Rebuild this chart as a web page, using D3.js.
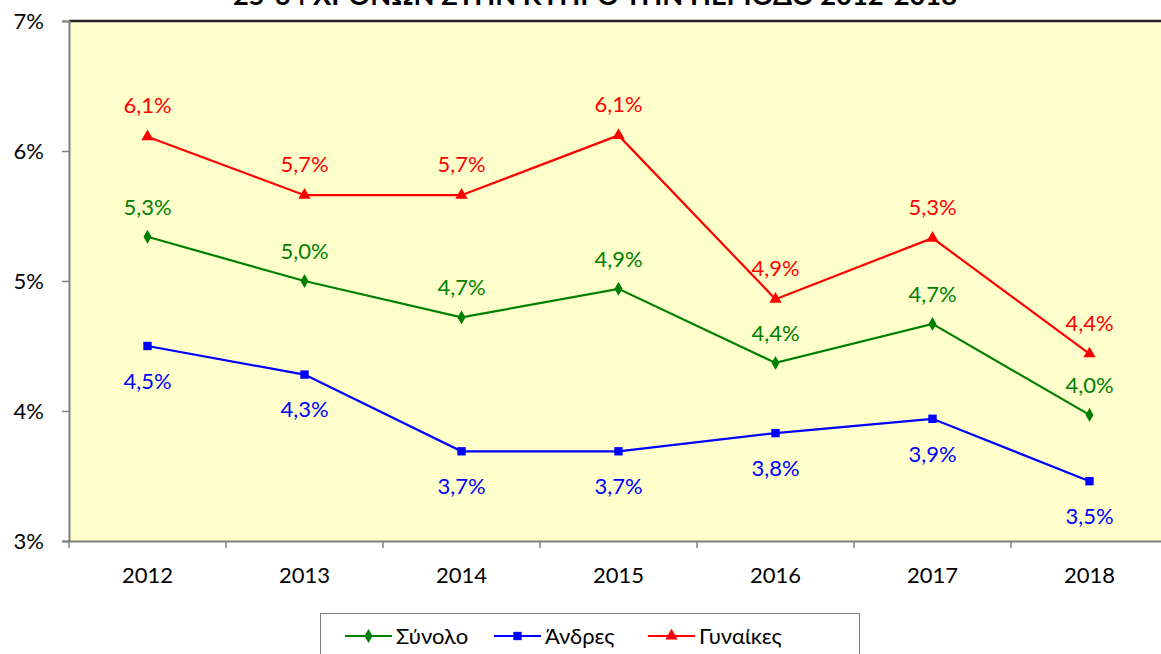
<!DOCTYPE html>
<html><head><meta charset="utf-8">
<script src="https://cdn.jsdelivr.net/npm/d3@7"></script>
<style>body{margin:0;background:#fff}svg{display:block}text{font-family:Lato,"Open Sans",sans-serif}</style>
</head><body>
<svg id="c" width="1161" height="654"></svg>
<script>
const years = ["2012","2013","2014","2015","2016","2017","2018"];
const total = [5.34, 5.00, 4.72, 4.94, 4.37, 4.67, 3.97];
const men   = [4.50, 4.28, 3.69, 3.69, 3.83, 3.94, 3.46];
const women = [6.11, 5.66, 5.66, 6.12, 4.86, 5.33, 4.44];
const yTicks = [3,4,5,6,7];
const title = "25-64 ΧΡΟΝΩΝ ΣΤΗΝ ΚΥΠΡΟ ΤΗΝ ΠΕΡΙΟΔΟ 2012-2018";
const seriesNames = ["Σύνολο","Άνδρες","Γυναίκες"];

const svg = d3.select("#c");
const L=69, R=1168, T=21, B=541;
const x = d3.scaleBand().domain(years).range([L,R]);
const y = d3.scaleLinear().domain([3,7]).range([B,T]);
const cx = d => x(d)+x.bandwidth()/2;

svg.append("rect").attr("x",L).attr("y",T).attr("width",R-L).attr("height",B-T).attr("fill","#FFFFCC");
svg.append("line").attr("x1",L).attr("x2",R).attr("y1",T).attr("y2",T).attr("stroke","#222").attr("stroke-width",2.5);

svg.append("text").attr("x",595).attr("y",5).attr("text-anchor","middle")
  .attr("font-weight","bold").attr("font-size",26).attr("textLength",724).attr("lengthAdjust","spacingAndGlyphs")
  .attr("font-family","'Liberation Sans',Arial,sans-serif").text(title);

// y axis
const ya = svg.append("g").attr("transform",`translate(${L},0)`)
  .call(d3.axisLeft(y).tickValues(yTicks).tickFormat(d=>d+"%").tickSize(7).tickPadding(18));
ya.select(".domain").attr("stroke","#808080").attr("stroke-width",2);
ya.selectAll(".tick line").attr("stroke","#808080").attr("stroke-width",1.5);
ya.selectAll(".tick text").attr("font-size",22).attr("fill","#000").attr("font-family","Lato");

// x axis
const xa = svg.append("g").attr("transform",`translate(0,${B})`)
  .call(d3.axisBottom(x).tickSize(0).tickPadding(26));
xa.select(".domain").attr("stroke","#808080").attr("stroke-width",2);
xa.selectAll(".tick text").attr("font-size",22).attr("fill","#000").attr("font-family","Lato");
const bounds = years.map(d=>x(d)).concat([R]);
svg.append("g").selectAll("line").data(bounds).join("line")
  .attr("x1",d=>d).attr("x2",d=>d).attr("y1",B).attr("y2",B+7).attr("stroke","#808080").attr("stroke-width",1.5);

const series = [
  {name:seriesNames[0], vals:total, color:"#008000", marker:"diamond", dy:-30},
  {name:seriesNames[1], vals:men, color:"#0000FF", marker:"square", dy:35},
  {name:seriesNames[2], vals:women, color:"#FF0000", marker:"triangle", dy:-31}
];
const sym = {diamond:d3.symbol(d3.symbolDiamond,56), square:d3.symbol(d3.symbolSquare,70), triangle:d3.symbol(d3.symbolTriangle,66)};
const line = d3.line().x((d,i)=>cx(years[i])).y(d=>y(d));
const fmt = v => v.toFixed(1).replace(".",",")+"%";

series.forEach(s=>{
  const g = svg.append("g");
  g.append("path").attr("d",line(s.vals)).attr("fill","none").attr("stroke",s.color).attr("stroke-width",2.2);
  g.selectAll("path.m").data(s.vals).join("path").attr("class","m")
    .attr("transform",(d,i)=>`translate(${cx(years[i])},${y(d)})`).attr("d",sym[s.marker]()).attr("fill",s.color);
  g.selectAll("text").data(s.vals).join("text")
    .attr("x",(d,i)=>cx(years[i])).attr("y",d=>y(d)+s.dy).attr("dy","0.35em")
    .attr("text-anchor","middle").attr("font-size",22).attr("fill",s.color).text(fmt);
});

// legend
const lg = svg.append("g");
lg.append("rect").attr("x",320.5).attr("y",613.5).attr("width",539).attr("height",50).attr("fill","#fff").attr("stroke","#808080").attr("stroke-width",1);
const lpos = [345, 494, 648];
series.forEach((s,i)=>{
  const x0 = lpos[i], ly = 636;
  lg.append("line").attr("x1",x0).attr("x2",x0+47).attr("y1",ly).attr("y2",ly).attr("stroke",s.color).attr("stroke-width",2.2);
  lg.append("path").attr("transform",`translate(${x0+23.5},${ly})`).attr("d",sym[s.marker]()).attr("fill",s.color);
  lg.append("text").attr("x",x0+51).attr("y",ly).attr("dy","0.35em").attr("font-size",22).attr("fill","#000").text(s.name);
});
</script>
</body></html>
